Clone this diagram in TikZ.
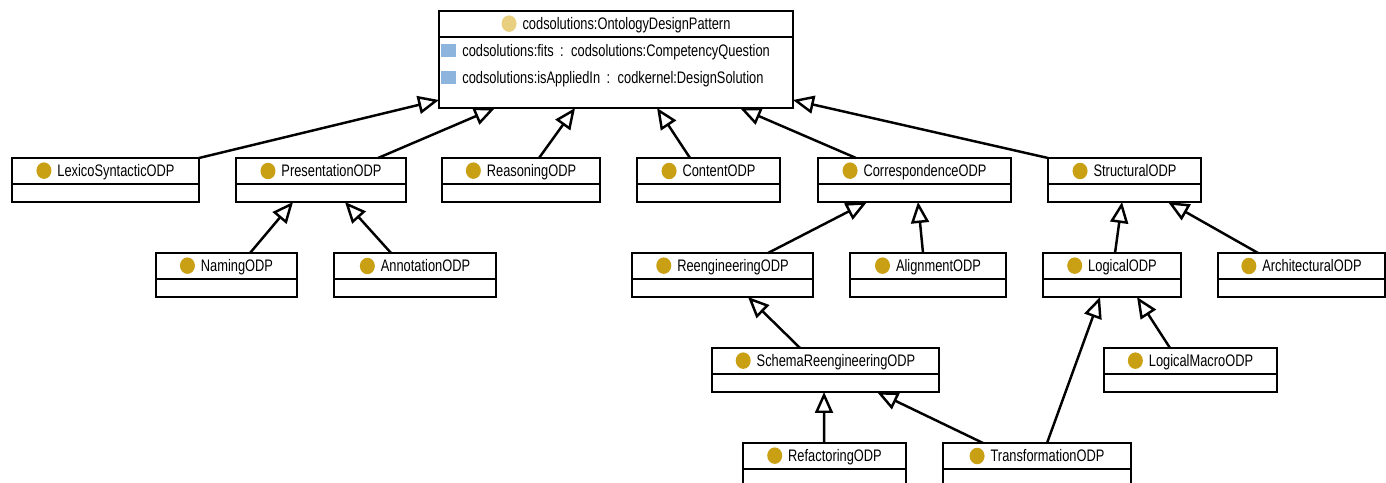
\documentclass[tikz,border=0pt]{standalone}
\usepackage{fontspec}
\setmainfont{Liberation Sans}[FakeStretch=0.77]
\usetikzlibrary{positioning,calc,arrows.meta}
\definecolor{odpgold}{RGB}{201,160,20}
\definecolor{odplight}{RGB}{232,208,128}
\definecolor{attrblue}{RGB}{140,180,220}
\newcommand{\clsicon}[1][odpgold]{\tikz[baseline=-0.11cm]\fill[#1] (0,0) ellipse (0.15cm and 0.165cm);}
\newcommand{\attricon}{\tikz[baseline=0.01cm]\fill[attrblue] (0,0) rectangle (0.3cm,0.25cm);}
\begin{document}
\begin{tikzpicture}[x=0.02cm, y=-0.02cm,
		cls/.style={draw, rectangle, outer sep=0pt, inner ysep=0pt, minimum height=0.52cm, line width=0.8pt, font=\fontsize{9.5}{11}\selectfont},
		clsb/.style={draw, rectangle, outer sep=0pt, minimum height=0.36cm, line width=0.8pt, below=0pt of #1},
		attr/.style={inner sep=0pt, anchor=west, font=\fontsize{9.5}{11}\selectfont},
		gen/.style={-{Triangle[open, length=0.42cm, width=0.36cm]}, line width=1.4pt},
	]
	\useasboundingbox (0,0) rectangle (1386,483);
	% superclass
	\node[cls, minimum width=7.08cm] (odp) at (616,24) {\clsicon[odplight]\hspace{0.12cm}codsolutions:OntologyDesignPattern};
	\node[clsb=odp, minimum width=7.08cm, minimum height=1.42cm] (odp-b) {};
	\node[attr] (fits) at (441,52) {\attricon\hspace{0.12cm}codsolutions:fits \,:\, codsolutions:CompetencyQuestion};
	\node[attr] (applied) at (441,79) {\attricon\hspace{0.12cm}codsolutions:isAppliedIn \,:\, codkernel:DesignSolution};
	% first level
	\node[cls, minimum width=3.74cm] (lexico) at (105.5,171) {\clsicon\hspace{0.12cm}LexicoSyntacticODP};
	\node[clsb=lexico, minimum width=3.74cm] (lexico-b) {};
	\node[cls, minimum width=3.40cm] (present) at (321,171) {\clsicon\hspace{0.12cm}PresentationODP};
	\node[clsb=present, minimum width=3.40cm] (present-b) {};
	\node[cls, minimum width=3.16cm] (reason) at (521,171) {\clsicon\hspace{0.12cm}ReasoningODP};
	\node[clsb=reason, minimum width=3.16cm] (reason-b) {};
	\node[cls, minimum width=2.86cm] (content) at (708.5,171) {\clsicon\hspace{0.12cm}ContentODP};
	\node[clsb=content, minimum width=2.86cm] (content-b) {};
	\node[cls, minimum width=3.86cm] (corresp) at (914.5,171) {\clsicon\hspace{0.12cm}CorrespondenceODP};
	\node[clsb=corresp, minimum width=3.86cm] (corresp-b) {};
	\node[cls, minimum width=3.06cm] (struct) at (1124.5,171) {\clsicon\hspace{0.12cm}StructuralODP};
	\node[clsb=struct, minimum width=3.06cm] (struct-b) {};
	% second level
	\node[cls, minimum width=2.82cm] (naming) at (226.5,266) {\clsicon\hspace{0.12cm}NamingODP};
	\node[clsb=naming, minimum width=2.82cm] (naming-b) {};
	\node[cls, minimum width=3.24cm] (annot) at (415,266) {\clsicon\hspace{0.12cm}AnnotationODP};
	\node[clsb=annot, minimum width=3.24cm] (annot-b) {};
	\node[cls, minimum width=3.62cm] (reeng) at (722.5,266) {\clsicon\hspace{0.12cm}ReengineeringODP};
	\node[clsb=reeng, minimum width=3.62cm] (reeng-b) {};
	\node[cls, minimum width=3.12cm] (align) at (928,266) {\clsicon\hspace{0.12cm}AlignmentODP};
	\node[clsb=align, minimum width=3.12cm] (align-b) {};
	\node[cls, minimum width=2.76cm] (logical) at (1112,266) {\clsicon\hspace{0.12cm}LogicalODP};
	\node[clsb=logical, minimum width=2.76cm] (logical-b) {};
	\node[cls, minimum width=3.34cm] (arch) at (1301.5,266) {\clsicon\hspace{0.12cm}ArchitecturalODP};
	\node[clsb=arch, minimum width=3.34cm] (arch-b) {};
	% third level
	\node[cls, minimum width=4.54cm] (schema) at (825.5,361) {\clsicon\hspace{0.12cm}SchemaReengineeringODP};
	\node[clsb=schema, minimum width=4.54cm] (schema-b) {};
	\node[cls, minimum width=3.46cm] (macro) at (1190.5,361) {\clsicon\hspace{0.12cm}LogicalMacroODP};
	\node[clsb=macro, minimum width=3.46cm] (macro-b) {};
	% fourth level
	\node[cls, minimum width=3.26cm] (refact) at (824.5,456) {\clsicon\hspace{0.12cm}RefactoringODP};
	\node[clsb=refact, minimum width=3.26cm] (refact-b) {};
	\node[cls, minimum width=3.76cm] (transf) at (1037,456) {\clsicon\hspace{0.12cm}TransformationODP};
	\node[clsb=transf, minimum width=3.76cm] (transf-b) {};
	% generalizations
	\draw[gen] (lexico.north east) -- ($(odp-b.south west)+(0,-8)$);
	\draw[gen] ($(present.north west)+(142,0)$) -- ($(odp-b.south west)+(56,0)$);
	\draw[gen] ($(reason.north west)+(97,0)$) -- ($(odp-b.south west)+(136,0)$);
	\draw[gen] ($(content.north west)+(53,0)$) -- ($(odp-b.south west)+(218,0)$);
	\draw[gen] ($(corresp.north west)+(38,0)$) -- ($(odp-b.south west)+(301,0)$);
	\draw[gen] (struct.north west) -- ($(odp-b.south east)+(0,-8)$);
	\draw[gen] ($(naming.north west)+(94,0)$) -- ($(present-b.south west)+(57,0)$);
	\draw[gen] ($(annot.north west)+(57,0)$) -- ($(present-b.south west)+(109,0)$);
	\draw[gen] ($(reeng.north west)+(136,0)$) -- ($(corresp-b.south west)+(49,0)$);
	\draw[gen] ($(align.north west)+(73,0)$) -- ($(corresp-b.south west)+(100,0)$);
	\draw[gen] ($(logical.north west)+(72,0)$) -- ($(struct-b.south west)+(74,0)$);
	\draw[gen] ($(arch.north west)+(40,0)$) -- ($(struct-b.south west)+(120,0)$);
	\draw[gen] ($(schema.north west)+(88,0)$) -- ($(reeng-b.south west)+(116,0)$);
	\draw[gen] ($(refact.north west)+(81,0)$) -- ($(schema-b.south west)+(112,0)$);
	\draw[gen] ($(transf.north west)+(40,0)$) -- ($(schema-b.south west)+(165,0)$);
	\draw[gen] ($(transf.north west)+(104,0)$) -- ($(logical-b.south west)+(57,0)$);
	\draw[gen] ($(macro.north west)+(66,0)$) -- ($(logical-b.south west)+(94,0)$);
\end{tikzpicture}
\end{document}
